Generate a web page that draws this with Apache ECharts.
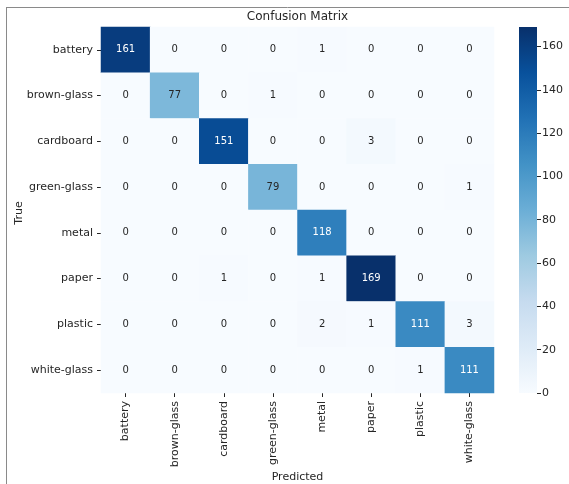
<!DOCTYPE html>
<html>
<head>
<meta charset="utf-8">
<script src="https://cdn.jsdelivr.net/npm/echarts@6/dist/echarts.min.js"></script>
<style>
  html, body { margin: 0; padding: 0; background: #ffffff; }
  #chart { width: 569px; height: 484px; }
</style>
</head>
<body>
<div id="chart"></div>
<script>
// Class names, shared by the true (rows) and predicted (columns) axes
const classes = ['battery', 'brown-glass', 'cardboard', 'green-glass', 'metal', 'paper', 'plastic', 'white-glass'];

// Confusion counts, one row per true class
const battery    = [161, 0, 0, 0, 1, 0, 0, 0];
const brownGlass = [0, 77, 0, 1, 0, 0, 0, 0];
const cardboard  = [0, 0, 151, 0, 0, 3, 0, 0];
const greenGlass = [0, 0, 0, 79, 0, 0, 0, 1];
const metal      = [0, 0, 0, 0, 118, 0, 0, 0];
const paper      = [0, 0, 1, 0, 1, 169, 0, 0];
const plastic    = [0, 0, 0, 0, 2, 1, 111, 3];
const whiteGlass = [0, 0, 0, 0, 0, 0, 1, 111];
const matrixRows = [battery, brownGlass, cardboard, greenGlass, metal, paper, plastic, whiteGlass];

// Colour bar ticks
const colorbarTicks = [0, 20, 40, 60, 80, 100, 120, 140, 160];

// Blues colour ramp
const blues = ['#f7fbff', '#deebf7', '#c6dbef', '#9ecae1', '#6baed6', '#4292c6', '#2171b5', '#08519c', '#08306b'];

const vmin = 0;
const vmax = Math.max(...matrixRows.map(r => Math.max(...r)));
const textDark = '#262626';

const cells = [];
matrixRows.forEach((row, yi) => {
  row.forEach((v, xi) => {
    cells.push({
      value: [xi, yi, v],
      label: { color: v / vmax > 0.5 ? '#ffffff' : textDark }
    });
  });
});

const gradientStops = blues.map((c, i) => ({ offset: i / (blues.length - 1), color: c }));

const chart = echarts.init(document.getElementById('chart'), null, { renderer: 'canvas' });
chart.setOption({
  animation: false,
  backgroundColor: '#ffffff',
  textStyle: { fontFamily: 'DejaVu Sans' },
  grid: [
    { left: 101, top: 27, width: 393, height: 366 },
    { left: 519, top: 27, width: 18, height: 366 }
  ],
  xAxis: [
    {
      type: 'category', gridIndex: 0, data: classes, position: 'bottom',
      axisLine: { show: false },
      axisTick: { show: true, alignWithLabel: true, length: 4, lineStyle: { color: textDark } },
      axisLabel: { rotate: 90, fontSize: 11, color: textDark, margin: 8, fontFamily: 'DejaVu Sans' },
      splitLine: { show: false }
    },
    {
      type: 'category', gridIndex: 1, data: [''],
      axisLine: { show: false }, axisTick: { show: false }, axisLabel: { show: false }
    }
  ],
  yAxis: [
    {
      type: 'category', gridIndex: 0, data: classes, inverse: true,
      axisLine: { show: false },
      axisTick: { show: true, alignWithLabel: true, length: 4, lineStyle: { color: textDark } },
      axisLabel: { fontSize: 11, color: textDark, margin: 8, fontFamily: 'DejaVu Sans' },
      splitLine: { show: false }
    },
    {
      type: 'value', gridIndex: 1, position: 'right', min: vmin, max: vmax,
      interval: 20,
      axisLine: { show: false },
      axisTick: { show: true, length: 4, lineStyle: { color: textDark } },
      axisLabel: {
        fontSize: 11, color: textDark, margin: 5, fontFamily: 'DejaVu Sans',
        showMaxLabel: false,
        formatter: v => (colorbarTicks.includes(v) ? String(v) : '')
      },
      splitLine: { show: false }
    }
  ],
  visualMap: {
    show: false, type: 'continuous', min: vmin, max: vmax,
    seriesIndex: 0, dimension: 2,
    inRange: { color: blues }
  },
  series: [
    {
      type: 'heatmap', xAxisIndex: 0, yAxisIndex: 0,
      data: cells,
      label: { show: true, fontSize: 10, fontFamily: 'DejaVu Sans', formatter: p => String(p.value[2]) },
      itemStyle: { borderWidth: 0 },
      emphasis: { disabled: true }
    },
    {
      // colour bar: a single bar spanning the full colour range
      type: 'bar', xAxisIndex: 1, yAxisIndex: 1,
      data: [vmax], barWidth: '100%', silent: true,
      itemStyle: {
        color: new echarts.graphic.LinearGradient(0, 1, 0, 0, gradientStops)
      }
    }
  ],
  graphic: [
    { type: 'line', shape: { x1: 6.5, y1: 7, x2: 6.5, y2: 484 }, style: { stroke: '#8a8a8a', lineWidth: 1 } },
    { type: 'line', shape: { x1: 6, y1: 7.5, x2: 569, y2: 7.5 }, style: { stroke: '#8a8a8a', lineWidth: 1 } },
    {
      type: 'text', x: 297.5, y: 17,
      style: { text: 'Confusion Matrix', fontSize: 12, fontFamily: 'DejaVu Sans', fill: textDark, align: 'center', verticalAlign: 'middle' }
    },
    {
      type: 'text', x: 297.5, y: 477,
      style: { text: 'Predicted', fontSize: 11, fontFamily: 'DejaVu Sans', fill: textDark, align: 'center', verticalAlign: 'middle' }
    },
    {
      type: 'text', x: 19, y: 213, rotation: Math.PI / 2,
      style: { text: 'True', fontSize: 11, fontFamily: 'DejaVu Sans', fill: textDark, align: 'center', verticalAlign: 'middle' }
    }
  ]
});
</script>
</body>
</html>
